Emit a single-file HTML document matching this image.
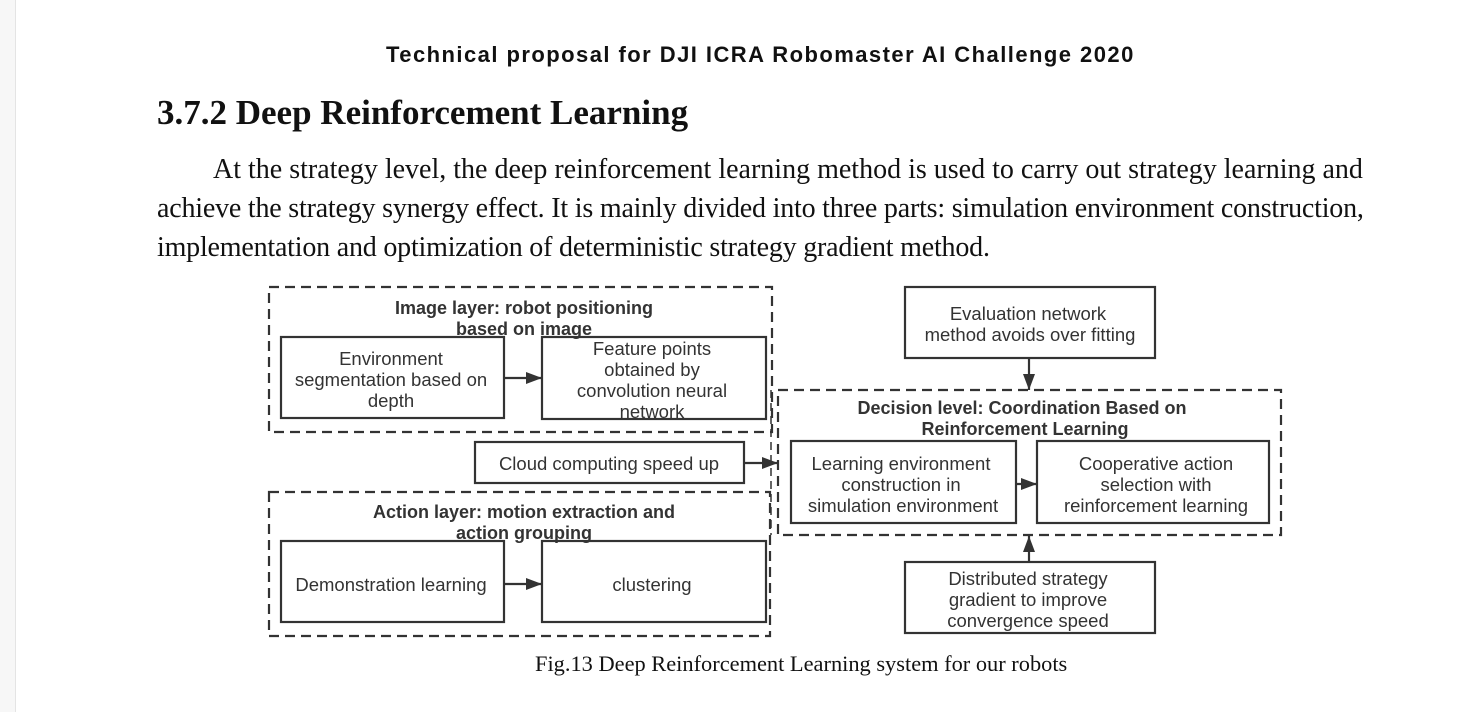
<!DOCTYPE html>
<html><head><meta charset="utf-8"><style>
html,body{margin:0;padding:0;background:#fff;}
body{width:1467px;height:712px;position:relative;overflow:hidden;}
.t{position:absolute;white-space:nowrap;color:#111;}
.hdr{font-family:"Liberation Sans",sans-serif;font-size:22px;font-weight:bold;letter-spacing:1.45px;left:386px;top:42px;}
.h{font-family:"Liberation Serif",serif;font-weight:bold;font-size:35px;left:157px;top:93px;}
.p{font-family:"Liberation Serif",serif;font-size:28px;left:157px;}
.cap{font-family:"Liberation Serif",serif;font-size:22.4px;left:535px;top:651px;}
svg text{font-family:"Liberation Sans",sans-serif;fill:#333;}
</style></head><body>
<div style="position:absolute;left:0;top:0;width:15px;height:712px;background:#f7f7f7;border-right:1px solid #e4e4e4"></div>
<div class="t hdr">Technical proposal for DJI ICRA Robomaster AI Challenge 2020</div>
<div class="t h">3.7.2 Deep Reinforcement Learning</div>
<div class="t p" style="top:154px;left:213px">At the strategy level, the deep reinforcement learning method is used to carry out strategy learning and</div>
<div class="t p" style="top:193px;letter-spacing:-0.2px">achieve the strategy synergy effect. It is mainly divided into three parts: simulation environment construction,</div>
<div class="t p" style="top:232px;letter-spacing:-0.2px">implementation and optimization of deterministic strategy gradient method.</div>
<svg width="1467" height="712" style="position:absolute;left:0;top:0">
<defs><marker id="a" markerWidth="16" markerHeight="12" refX="16" refY="6" orient="auto" markerUnits="userSpaceOnUse"><path d="M0,0L16,6L0,12z" fill="#333"/></marker></defs>
<g fill="none" stroke="#333" stroke-width="2.2" stroke-dasharray="10,6">
<rect x="269" y="287" width="503" height="145"/>
<rect x="269" y="492" width="501" height="144"/>
<rect x="778" y="390" width="503" height="145"/>
</g>
<line x1="771" y1="390" x2="771" y2="535" stroke="#333" stroke-width="1.5" stroke-dasharray="8,5"/>
<g fill="#fff" stroke="#333" stroke-width="2.2">
<rect x="281" y="337" width="223" height="81"/>
<rect x="542" y="337" width="224" height="82"/>
<rect x="475" y="442" width="269" height="41"/>
<rect x="281" y="541" width="223" height="81"/>
<rect x="542" y="541" width="224" height="81"/>
<rect x="791" y="441" width="225" height="82"/>
<rect x="1037" y="441" width="232" height="82"/>
<rect x="905" y="287" width="250" height="71"/>
<rect x="905" y="562" width="250" height="71"/>
</g>
<g stroke="#333" stroke-width="2.2" marker-end="url(#a)">
<line x1="504" y1="378" x2="542" y2="378"/>
<line x1="744" y1="463" x2="778" y2="463"/>
<line x1="504" y1="584" x2="542" y2="584"/>
<line x1="1016" y1="484" x2="1037" y2="484"/>
<line x1="1029" y1="358" x2="1029" y2="390"/>
<line x1="1029" y1="562" x2="1029" y2="536"/>
</g>
<g font-size="18.5" text-anchor="middle">
<text x="524" y="314" font-weight="bold" font-size="18">Image layer: robot positioning</text>
<text x="524" y="335" font-weight="bold" font-size="18">based on image</text>
<text x="391" y="365">Environment</text>
<text x="391" y="386">segmentation based on</text>
<text x="391" y="407">depth</text>
<text x="652" y="355">Feature points</text>
<text x="652" y="376">obtained by</text>
<text x="652" y="397">convolution neural</text>
<text x="652" y="418">network</text>
<text x="609" y="470">Cloud computing speed up</text>
<text x="524" y="518" font-weight="bold" font-size="18">Action layer: motion extraction and</text>
<text x="524" y="539" font-weight="bold" font-size="18">action grouping</text>
<text x="391" y="591">Demonstration learning</text>
<text x="652" y="591">clustering</text>
<text x="1028" y="320">Evaluation network</text>
<text x="1030" y="341">method avoids over fitting</text>
<text x="1022" y="414" font-weight="bold" font-size="18">Decision level: Coordination Based on</text>
<text x="1025" y="435" font-weight="bold" font-size="18">Reinforcement Learning</text>
<text x="901" y="470">Learning environment</text>
<text x="901" y="491">construction in</text>
<text x="903" y="512">simulation environment</text>
<text x="1156" y="470">Cooperative action</text>
<text x="1156" y="491">selection with</text>
<text x="1156" y="512">reinforcement learning</text>
<text x="1028" y="585">Distributed strategy</text>
<text x="1028" y="606">gradient to improve</text>
<text x="1028" y="627">convergence speed</text>
</g>
</svg>
<div class="t cap">Fig.13 Deep Reinforcement Learning system for our robots</div>
</body></html>
